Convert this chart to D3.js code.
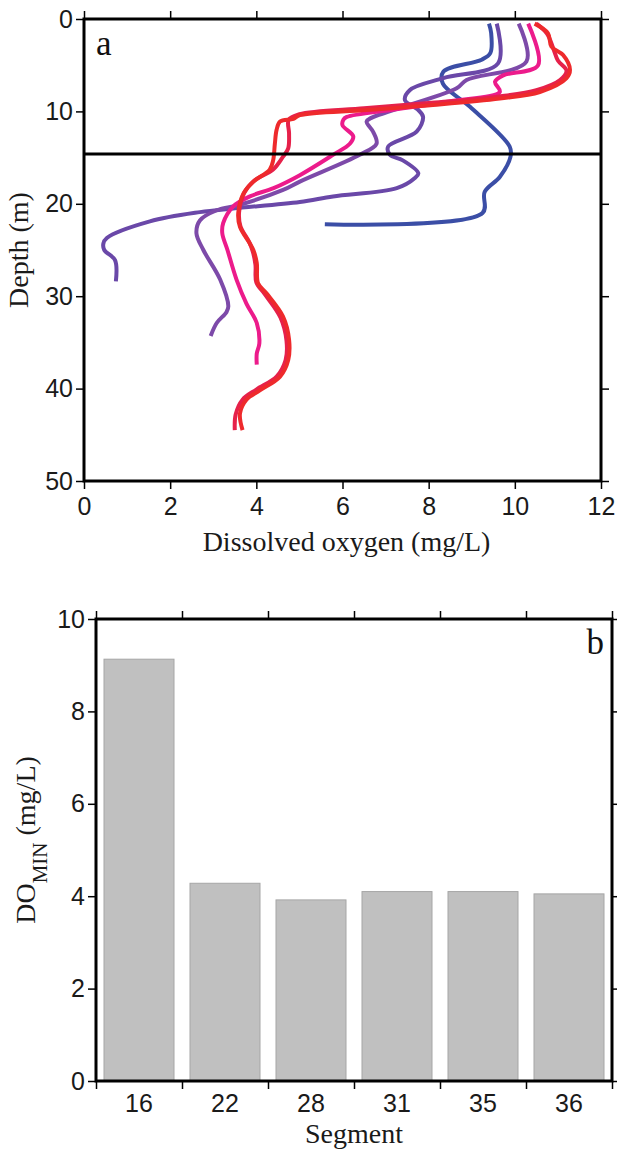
<!DOCTYPE html>
<html>
<head>
<meta charset="utf-8">
<script src="https://cdn.jsdelivr.net/npm/d3@7"></script>
<style>
body { margin: 0; background: #fff; }
svg { display: block; font-family: "Liberation Serif", "Times New Roman", serif; }
.axis line { stroke: #000; stroke-width: 1.5; }
.axis text { font-size: 25px; fill: #1a1a1a; }
.title { font-size: 28px; fill: #1a1a1a; }
.panel { font-size: 35px; fill: #111; }
</style>
</head>
<body>
<div id="chart"></div>
<script>
// ---- data ----
// panel a: dissolved oxygen profiles, [DO mg/L, depth m]
var profileBlue = [[9.40,0.5],[9.45,1.5],[9.43,3.7],[9.23,4.4],[8.34,5.7],[8.33,7.0],[8.96,9.5],[9.88,13.8],[9.90,14.9],[9.65,17.1],[9.30,18.7],[9.25,21.0],[5.59,22.2]];
var profileViolet = [[9.58,0.5],[9.61,4.8],[8.34,6.4],[7.56,7.7],[7.45,8.8],[7.76,9.85],[7.87,10.6],[7.72,12.2],[7.06,13.8],[7.10,14.7],[7.40,15.3],[7.76,16.7],[7.68,17.2],[7.26,18.3],[5.78,19.2],[5.01,19.8],[3.46,20.5],[2.69,20.9],[1.53,21.9],[0.53,23.7],[0.45,24.3],[0.47,25.0],[0.72,26.1],[0.74,28.4]];
var profilePurple = [[10.09,0.5],[10.27,4.6],[8.88,6.6],[8.65,7.5],[6.67,10.7],[6.56,11.1],[6.71,12.2],[6.79,13.5],[6.40,14.7],[5.01,17.6],[4.62,18.5],[3.62,20.1],[3.08,20.7],[2.69,21.8],[2.61,23.2],[2.77,25.0],[3.16,28.2],[3.35,31.1],[3.31,31.7],[3.08,32.9],[2.94,34.3]];
var profilePink = [[10.31,0.5],[10.54,5.0],[9.73,6.1],[9.54,6.8],[9.65,7.9],[8.5,8.9],[7.2,9.8],[6.1,10.6],[6.02,10.9],[6.0,11.5],[6.25,12.7],[6.17,13.5],[5.78,14.7],[5.01,16.9],[4.4,18.3],[3.85,19.2],[3.46,20.3],[3.23,22.1],[3.21,23.2],[3.33,25.0],[3.54,28.2],[3.77,30.8],[4.01,32.9],[4.07,35.1],[4.01,36.2],[4.01,37.4]];
var profileCrimson = [[10.5,0.5],[10.75,1.6],[10.9,3.3],[11.0,4.5],[11.2,5.6],[11.05,6.6],[10.5,7.7],[9.6,8.4],[8.0,9.1],[6.5,9.65],[5.0,10.3],[4.75,10.9],[4.76,12.4],[4.74,14.0],[4.62,14.9],[4.39,16.3],[3.95,17.5],[3.72,18.8],[3.60,20.9],[3.63,22.4],[3.84,24.2],[3.92,25.2],[3.98,26.6],[4.0,28.5],[4.2,29.8],[4.56,32.3],[4.70,34.8],[4.68,36.9],[4.47,38.7],[4.0,40.1],[3.68,41.2],[3.52,42.8],[3.50,44.5]];
var profileRed = [[10.46,0.5],[10.77,1.55],[10.85,3.0],[11.12,3.9],[11.28,5.5],[11.20,6.4],[10.58,7.9],[9.65,8.6],[8.10,9.3],[6.56,9.85],[5.01,10.4],[4.86,10.8],[4.55,11.1],[4.47,12.0],[4.43,13.5],[4.39,15.3],[4.31,16.3],[3.93,17.6],[3.70,18.9],[3.58,21.0],[3.62,22.5],[3.85,24.3],[3.93,25.0],[4.01,26.4],[4.04,28.6],[4.24,29.7],[4.62,32.2],[4.76,34.7],[4.74,36.9],[4.55,38.7],[4.08,40.2],[3.77,41.2],[3.62,42.7],[3.68,44.5]];
var thermoclineDepth = 14.6;
var doTicks = [0, 2, 4, 6, 8, 10, 12],
    depthTicks = [0, 10, 20, 30, 40, 50];

// panel b: minimum DO per segment
var segments = ["16", "22", "28", "31", "35", "36"];
var doMin = [9.13, 4.28, 3.92, 4.10, 4.10, 4.05];
var doMinTicks = [0, 2, 4, 6, 8, 10];

// ---- layout ----
var width = 617, height = 1152,
    boxA = {left: 84, right: 601, top: 19, bottom: 481},
    boxB = {left: 96, right: 612, top: 619, bottom: 1081},
    tickLen = 8;

var svg = d3.select("#chart")
    .append("svg")
    .attr("width", width)
    .attr("height", height);

// =========== panel a ===========
var xDO = d3.scaleLinear().domain([0, 12]).range([boxA.left, boxA.right]),
    yDepth = d3.scaleLinear().domain([0, 50]).range([boxA.top, boxA.bottom]);

var profiles = [profileBlue, profileViolet, profilePurple, profilePink, profileCrimson, profileRed],
    profileColors = ["#3b4ea6", "#6a48a8", "#7d4aa9", "#ec1b8b", "#e6214a", "#ee2a2c"];

var panelA = svg.append("g");

var line = d3.line()
    .x(function(d) { return xDO(d[0]); })
    .y(function(d) { return yDepth(d[1]); })
    .curve(d3.curveCatmullRom.alpha(0.5));

panelA.selectAll(".profile")
    .data(profiles)
    .enter().append("path")
    .attr("class", "profile")
    .attr("d", line)
    .attr("fill", "none")
    .attr("stroke", function(d, i) { return profileColors[i]; })
    .attr("stroke-width", 4)
    .attr("stroke-linejoin", "round")
    .attr("stroke-linecap", "butt");

// thermocline marker
panelA.append("line")
    .attr("x1", xDO(0)).attr("x2", xDO(12))
    .attr("y1", yDepth(thermoclineDepth)).attr("y2", yDepth(thermoclineDepth))
    .attr("stroke", "#000")
    .attr("stroke-width", 3);

// axes on all four sides, ticks pointing out
panelA.append("g")
    .attr("class", "axis")
    .attr("transform", "translate(0," + boxA.bottom + ")")
    .call(d3.axisBottom(xDO).tickValues(doTicks).tickSize(tickLen).tickPadding(8))
    .call(function(g) { g.select(".domain").remove(); });
panelA.append("g")
    .attr("class", "axis")
    .attr("transform", "translate(" + boxA.left + ",0)")
    .call(d3.axisLeft(yDepth).tickValues(depthTicks).tickSize(tickLen).tickPadding(3))
    .call(function(g) { g.select(".domain").remove(); });
panelA.append("g")
    .attr("class", "axis")
    .attr("transform", "translate(0," + boxA.top + ")")
    .call(d3.axisTop(xDO).tickValues(doTicks).tickSize(tickLen).tickFormat(""))
    .call(function(g) { g.select(".domain").remove(); });
panelA.append("g")
    .attr("class", "axis")
    .attr("transform", "translate(" + boxA.right + ",0)")
    .call(d3.axisRight(yDepth).tickValues(depthTicks).tickSize(tickLen).tickFormat(""))
    .call(function(g) { g.select(".domain").remove(); });

panelA.append("rect")
    .attr("x", boxA.left).attr("y", boxA.top)
    .attr("width", boxA.right - boxA.left)
    .attr("height", boxA.bottom - boxA.top)
    .attr("fill", "none")
    .attr("stroke", "#000")
    .attr("stroke-width", 3);

panelA.append("text")
    .attr("class", "panel")
    .attr("x", boxA.left + 12)
    .attr("y", 55)
    .text("a");

panelA.append("text")
    .attr("class", "title")
    .attr("x", (boxA.left + boxA.right) / 2 + 4)
    .attr("y", 551)
    .attr("text-anchor", "middle")
    .text("Dissolved oxygen (mg/L)");

panelA.append("text")
    .attr("class", "title")
    .attr("transform", "translate(28," + (boxA.top + boxA.bottom) / 2 + ") rotate(-90)")
    .attr("text-anchor", "middle")
    .text("Depth (m)");

// =========== panel b ===========
var xSeg = d3.scaleBand()
        .domain(segments)
        .range([boxB.left, boxB.right])
        .paddingInner(16 / 86)
        .paddingOuter(8 / 86),
    yMin = d3.scaleLinear().domain([0, 10]).range([boxB.bottom, boxB.top]);

var panelB = svg.append("g");

panelB.selectAll(".bar")
    .data(doMin)
    .enter().append("rect")
    .attr("class", "bar")
    .attr("x", function(d, i) { return xSeg(segments[i]); })
    .attr("width", xSeg.bandwidth())
    .attr("y", function(d) { return yMin(d); })
    .attr("height", function(d) { return yMin(0) - yMin(d); })
    .attr("fill", "#c0c0c0")
    .attr("stroke", "#a6a6a6")
    .attr("stroke-width", 1);

// category ticks sit on the band edges, labels in the middle
var edges = d3.range(segments.length + 1).map(function(i) { return boxB.left + i * xSeg.step(); });
var xEdge = d3.scaleLinear().domain([boxB.left, boxB.right]).range([boxB.left, boxB.right]);

panelB.append("g")
    .attr("class", "axis")
    .attr("transform", "translate(0," + boxB.bottom + ")")
    .call(d3.axisBottom(xSeg).tickSize(0).tickPadding(13))
    .call(function(g) { g.select(".domain").remove(); });
panelB.append("g")
    .attr("class", "axis")
    .attr("transform", "translate(0," + boxB.bottom + ")")
    .call(d3.axisBottom(xEdge).tickValues(edges).tickSize(tickLen).tickFormat(""))
    .call(function(g) { g.select(".domain").remove(); });
panelB.append("g")
    .attr("class", "axis")
    .attr("transform", "translate(0," + boxB.top + ")")
    .call(d3.axisTop(xEdge).tickValues(edges).tickSize(tickLen).tickFormat(""))
    .call(function(g) { g.select(".domain").remove(); });
panelB.append("g")
    .attr("class", "axis")
    .attr("transform", "translate(" + boxB.left + ",0)")
    .call(d3.axisLeft(yMin).tickValues(doMinTicks).tickSize(tickLen).tickPadding(3))
    .call(function(g) { g.select(".domain").remove(); });
panelB.append("g")
    .attr("class", "axis")
    .attr("transform", "translate(" + boxB.right + ",0)")
    .call(d3.axisRight(yMin).tickValues(doMinTicks).tickSize(tickLen).tickFormat(""))
    .call(function(g) { g.select(".domain").remove(); });

panelB.append("rect")
    .attr("x", boxB.left).attr("y", boxB.top)
    .attr("width", boxB.right - boxB.left)
    .attr("height", boxB.bottom - boxB.top)
    .attr("fill", "none")
    .attr("stroke", "#000")
    .attr("stroke-width", 3);

panelB.append("text")
    .attr("class", "panel")
    .attr("x", boxB.right - 8)
    .attr("y", 654)
    .attr("text-anchor", "end")
    .text("b");

panelB.append("text")
    .attr("class", "title")
    .attr("x", (boxB.left + boxB.right) / 2)
    .attr("y", 1143)
    .attr("text-anchor", "middle")
    .text("Segment");

var yTitle = panelB.append("text")
    .attr("class", "title")
    .attr("transform", "translate(35,840) rotate(-90)")
    .attr("text-anchor", "middle");
yTitle.append("tspan").text("DO");
yTitle.append("tspan")
    .attr("font-size", "21px")
    .attr("dy", 12)
    .text("MIN");
yTitle.append("tspan")
    .attr("dy", -12)
    .text(" (mg/L)");
</script>
</body>
</html>
